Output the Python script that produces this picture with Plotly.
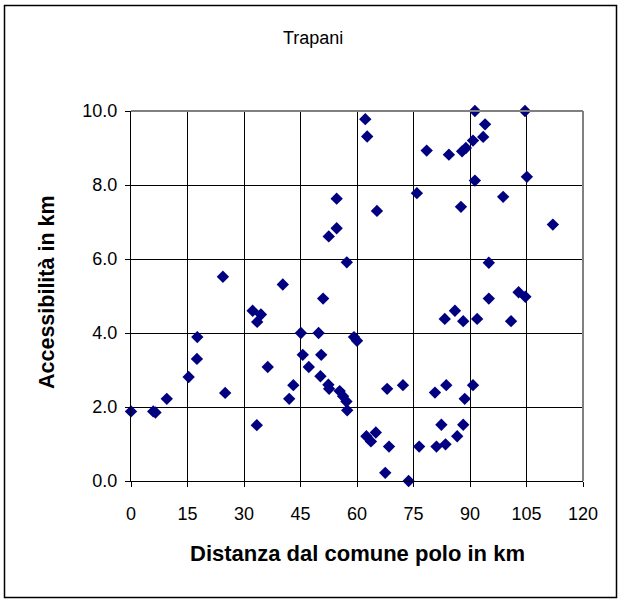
import plotly.graph_objects as go

# Distance from the hub municipality (km) and accessibility (km) for each comune
distanza = [
    0.0, 5.9, 6.5, 9.5, 15.3, 17.5, 17.6, 24.4, 25.0, 32.3,
    33.5, 34.5, 33.4, 36.3, 40.3, 42.0, 43.1, 45.1, 45.6, 47.2,
    49.8, 50.5, 50.3, 51.0, 52.4, 52.6, 52.5, 54.6, 54.6, 55.4,
    56.3, 57.2, 57.4, 57.3, 59.2, 60.0, 62.2, 62.7, 62.5, 63.7,
    65.0, 65.3, 67.5, 68.0, 68.5, 72.2, 73.7, 75.9, 76.5, 78.5,
    80.7, 81.1, 82.4, 83.3, 83.5, 83.7, 84.4, 86.0, 86.6, 87.6,
    87.9, 88.9, 88.2, 88.2, 88.6, 90.8, 90.8, 91.3, 91.3, 91.9,
    93.5, 94.0, 95.0, 95.0, 98.8, 100.9, 102.9, 104.6, 104.7, 105.1,
    112.0,
]
accessibilita = [
    1.88, 1.88, 1.85, 2.22, 2.81, 3.30, 3.89, 5.52, 2.38, 4.60,
    4.30, 4.50, 1.51, 3.08, 5.31, 2.22, 2.59, 4.00, 3.41, 3.08,
    4.00, 3.41, 2.83, 4.93, 2.60, 2.49, 6.61, 6.83, 7.63, 2.43,
    2.29, 2.15, 1.91, 5.91, 3.89, 3.79, 9.78, 9.31, 1.21, 1.07,
    1.31, 7.30, 0.22, 2.49, 0.93, 2.59, 0.00, 7.78, 0.93, 8.93,
    2.39, 0.93, 1.52, 4.38, 0.99, 2.59, 8.82, 4.60, 1.21, 7.41,
    8.91, 9.00, 4.32, 1.52, 2.22, 9.20, 2.59, 10.00, 8.12, 4.38,
    9.30, 9.64, 5.90, 4.93, 7.68, 4.32, 5.10, 10.00, 4.98, 8.22,
    6.93,
]

x_ticks = [0, 15, 30, 45, 60, 75, 90, 105, 120]
y_ticks = [0, 2, 4, 6, 8, 10]
y_tick_text = ["0.0", "2.0", "4.0", "6.0", "8.0", "10.0"]

FONT = "Liberation Sans, Arial, sans-serif"

W, H = 622, 599
L, R, T, B = 131, 39, 111, 118
pw, ph = W - L - R, H - T - B


def px_to_paper(px, py):
    return (px - L) / pw, (H - B - py) / ph


fig = go.Figure()
fig.add_trace(go.Scatter(
    x=distanza, y=accessibilita, mode="markers",
    marker=dict(symbol="diamond", size=9.5, color="#000080",
                line=dict(width=0)),
    cliponaxis=False, hoverinfo="x+y", showlegend=False,
))

axis_common = dict(
    showgrid=True, gridcolor="#000000", gridwidth=1,
    showline=True, linecolor="#000000", linewidth=1,
    ticks="outside", ticklen=5, tickcolor="#000000", tickwidth=1,
    tickfont=dict(family=FONT, size=18, color="#000000"),
    zeroline=False, fixedrange=True,
)

fig.update_xaxes(range=[0, 120], tickvals=x_ticks,
                 ticktext=[str(v) for v in x_ticks],
                 ticklabelstandoff=11, **axis_common)
fig.update_yaxes(range=[0, 10], tickvals=y_ticks, ticktext=y_tick_text,
                 ticklabelstandoff=4, **axis_common)

# outer frame of the chart
fx0, fy0 = px_to_paper(4.5, 5.5)
fx1, fy1 = px_to_paper(616.5, 597.5)
fig.add_shape(type="rect", xref="paper", yref="paper",
              x0=fx0, y0=fy1, x1=fx1, y1=fy0,
              line=dict(color="#000000", width=1.5), layer="below")

# grey border on the top and right of the plot area
fig.add_shape(type="line", xref="paper", yref="paper", x0=0, x1=1, y0=1, y1=1,
              line=dict(color="#808080", width=2))
fig.add_shape(type="line", xref="paper", yref="paper", x0=1, x1=1, y0=0, y1=1,
              line=dict(color="#808080", width=2))

tx, ty = px_to_paper(313, 38)
xtx, xty = px_to_paper(357, 553)
ytx, yty = px_to_paper(47, 292)

fig.add_annotation(text="Trapani", xref="paper", yref="paper", x=tx, y=ty,
                   showarrow=False, xanchor="center", yanchor="middle",
                   font=dict(family=FONT, size=18, color="#000000"))
fig.add_annotation(text="<b>Distanza dal comune polo in km</b>",
                   xref="paper", yref="paper", x=xtx, y=xty,
                   showarrow=False, xanchor="center", yanchor="middle",
                   font=dict(family=FONT, size=22, color="#000000"))
fig.add_annotation(text="<b>Accessibilità in km</b>",
                   xref="paper", yref="paper", x=ytx, y=yty, textangle=-90,
                   showarrow=False, xanchor="center", yanchor="middle",
                   font=dict(family=FONT, size=21.5, color="#000000"))

fig.update_layout(
    width=W, height=H,
    margin=dict(l=L, r=R, t=T, b=B, pad=0),
    paper_bgcolor="#ffffff", plot_bgcolor="#ffffff",
    showlegend=False,
)

fig.write_html("out.html", include_plotlyjs=True, full_html=True,
               config={"displayModeBar": False})
